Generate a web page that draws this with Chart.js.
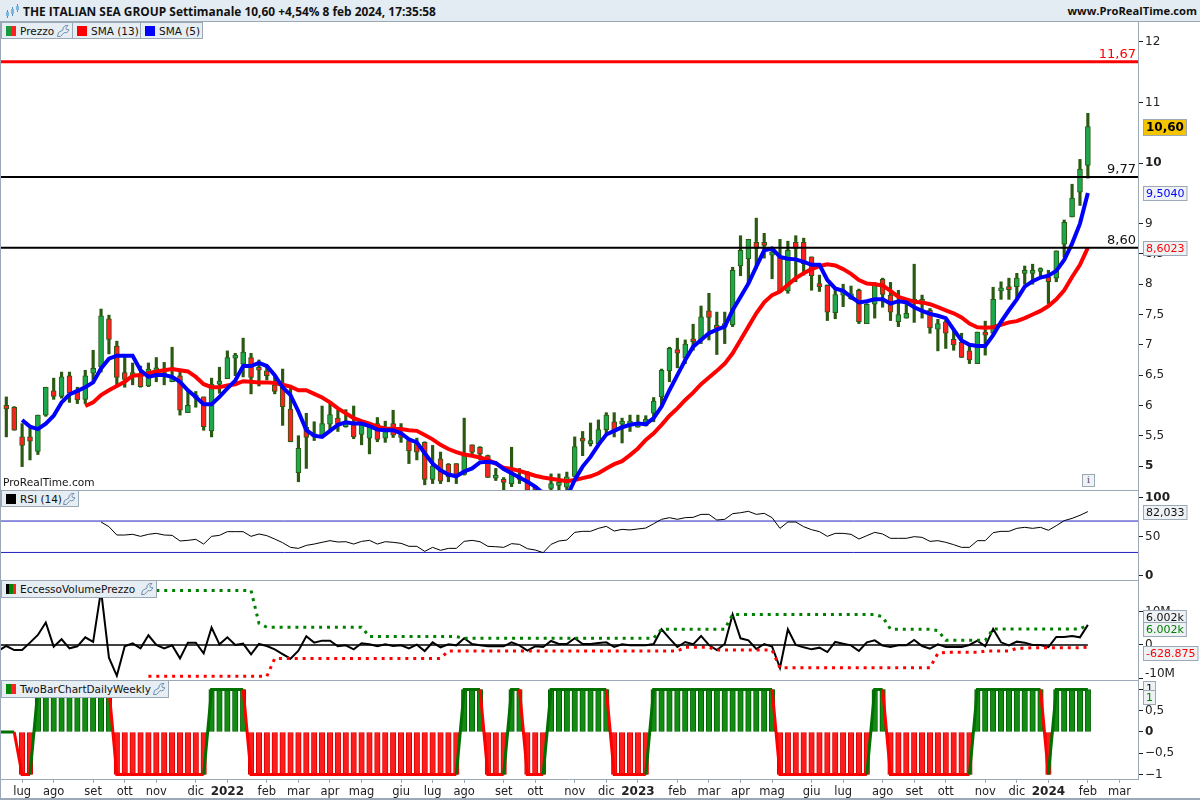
<!DOCTYPE html>
<html>
<head>
<meta charset="utf-8">
<title>The Italian Sea Group</title>
<script src="https://cdn.jsdelivr.net/npm/chart.js@4"></script>
<style>
  html, body { margin: 0; padding: 0; background: #fff; overflow: hidden; }
  #page { position: relative; width: 1200px; height: 800px; font-family: "DejaVu Sans", sans-serif; color: #111; }
  canvas { position: absolute; left: 0; display: block; }
  #titolo { position: absolute; left: 0; top: 0; width: 1200px; height: 22px; background: #e4ecf3; border-bottom: 1px solid #9aa9b5; box-sizing: border-box; font: bold 11.9px/22px "Open Sans", sans-serif; white-space: nowrap; }
  #titolo .nome { position: absolute; left: 23px; top: 0; }
  #titolo .sito { position: absolute; right: 3px; top: 0; font-size: 11.2px; }
  #titolo svg { position: absolute; left: 5px; top: 4px; }
  .chip { position: absolute; height: 17px; background: #e6edf3; border: 1px solid #9aa9b5; box-sizing: border-box; font-size: 10.5px; line-height: 16px; padding-left: 18px; white-space: nowrap; }
  .chip i { position: absolute; left: 4px; top: 3px; width: 10px; height: 10px; }
  .chip svg { position: absolute; right: 2px; top: 1px; }
  .sep { position: absolute; left: 0; width: 1138px; height: 1px; background: #9aa9b5; }
  #bordo { position: absolute; left: 0; top: 22px; width: 1px; height: 777px; background: #9aa9b5; }
  #fondo { position: absolute; left: 0; top: 798px; width: 1200px; height: 2px; background: #9aa9b5; }
  #marchio { position: absolute; left: 3px; top: 475px; font-size: 10.6px; line-height: 14px; }
  #info { position: absolute; left: 1082px; top: 474px; width: 11px; height: 11px; border: 1px solid #9aa9b5; background: #eef2f5; font: 9px/11px "DejaVu Serif", serif; text-align: center; color: #445; }
</style>
</head>
<body>
<div id="page">
  <svg width="0" height="0" style="position:absolute">
    <symbol id="chiave" viewBox="0 0 14 14">
      <path d="M1.5 12.5 L2.5 8.5 L7 6 C6.5 3 9 1 12 1.5 L9.8 3.8 L10.6 5.6 L12.7 5.6 C12.6 8 10 9.5 8 8.5 L4.5 12.5 Z" fill="none" stroke="#6f8fae" stroke-width="1"/>
    </symbol>
  </svg>

  <canvas id="prezzo" width="1200" height="468" style="top:22px"></canvas>
  <canvas id="rsi" width="1200" height="90" style="top:490px"></canvas>
  <canvas id="eccesso" width="1200" height="100" style="top:580px"></canvas>
  <canvas id="duebarre" width="1200" height="120" style="top:680px"></canvas>

  <div id="titolo">
    <svg width="16" height="15" viewBox="0 0 16 15"><path d="M2.5 6v8M7.5 3v9M12.5 0v8" stroke="#4d8fc4" stroke-width="1"/><rect x="1" y="8" width="3" height="4" fill="#7fb6e0"/><rect x="6" y="5" width="3" height="5" fill="#7fb6e0"/><rect x="11" y="2" width="3" height="4" fill="#7fb6e0"/></svg>
    <span class="nome">THE ITALIAN SEA GROUP Settimanale 10,60 +4,54% 8 feb 2024, 17:35:58</span>
    <span class="sito">www.ProRealTime.com</span>
  </div>
  <div class="sep" style="top:490px"></div>
  <div class="sep" style="top:580px"></div>
  <div class="sep" style="top:680px"></div>
  <div id="bordo"></div>
  <div id="fondo"></div>

  <div class="chip" style="left:1px;top:22px;width:72px">
    <i style="background:linear-gradient(90deg,#1a9a3c 50%,#f22 50%)"></i>Prezzo<svg width="14" height="14"><use href="#chiave"/></svg>
  </div>
  <div class="chip" style="left:72px;top:22px;width:69px"><i style="background:#f00"></i>SMA (13)</div>
  <div class="chip" style="left:140px;top:22px;width:63px"><i style="background:#00f"></i>SMA (5)</div>
  <div class="chip" style="left:1px;top:490px;width:78px"><i style="background:#000"></i>RSI (14)<svg width="14" height="14"><use href="#chiave"/></svg></div>
  <div class="chip" style="left:1px;top:580px;width:156px;height:18px"><i style="background:linear-gradient(90deg,#000 33%,#080 33%,#080 66%,#f22 66%)"></i>EccessoVolumePrezzo<svg width="14" height="14"><use href="#chiave"/></svg></div>
  <div class="chip" style="left:1px;top:680px;width:168px;height:18px"><i style="background:linear-gradient(90deg,#080 50%,#f22 50%)"></i>TwoBarChartDailyWeekly<svg width="14" height="14"><use href="#chiave"/></svg></div>

  <div id="marchio">ProRealTime.com</div>
  <div id="info">i</div>
</div>

<script>
// Candele settimanali (dal 2021 a feb 2024)
const opens = [
  6.00,5.97,5.48,5.48,5.24,5.84,6.24,6.15,6.49,6.22,
  6.10,6.53,6.64,7.43,6.98,6.54,6.48,6.52,6.32,6.48,
  6.48,6.39,6.49,5.88,6.14,6.14,5.58,6.35,6.44,6.78,
  6.68,6.79,6.63,6.57,6.34,6.30,5.94,4.89,5.64,5.48,
  5.51,5.69,5.79,5.65,5.68,5.52,5.46,5.70,5.46,5.70,
  5.51,5.42,5.37,5.39,4.78,5.12,5.03,5.04,4.86,5.35,
  5.31,5.17,4.80,4.76,4.71,4.78,4.87,4.66,4.55,4.63,
  4.68,4.65,4.83,5.44,5.37,5.37,5.60,5.73,5.69,5.69,
  5.64,5.66,5.87,6.14,6.57,6.92,6.78,7.09,7.08,7.56,
  7.30,7.30,7.33,8.30,8.42,8.69,8.69,8.48,8.45,7.89,
  8.69,8.69,8.45,8.01,7.98,7.53,7.82,7.76,7.90,7.35,
  7.67,8.08,7.82,7.38,7.44,7.70,7.67,7.57,7.26,7.38,
  7.09,7.04,6.90,6.69,7.21,7.19,7.89,7.96,7.96,8.18,
  8.18,8.21,8.12,8.10,8.66,9.11,9.52,9.96
];
const closes = [
  5.94,5.59,5.34,5.41,5.84,6.30,6.15,6.47,6.20,6.09,
  6.49,6.61,7.48,7.09,6.46,6.43,6.54,6.31,6.60,6.62,
  6.54,6.48,5.92,6.00,6.12,5.65,6.35,6.39,6.79,6.82,
  6.88,6.46,6.58,6.49,6.23,5.98,5.40,5.29,5.47,5.51,
  5.70,5.85,5.70,5.70,5.48,5.68,5.65,5.44,5.57,5.51,
  5.47,5.25,5.23,4.78,5.00,4.75,4.82,4.86,5.17,5.23,
  5.20,4.81,4.83,4.73,4.88,4.80,4.60,4.60,4.50,4.71,
  4.71,4.82,5.32,5.41,5.42,5.60,5.84,5.59,5.70,5.70,
  5.70,5.77,6.07,6.58,6.94,6.86,7.01,7.05,7.46,7.45,
  7.27,7.33,8.23,8.56,8.74,8.59,8.64,8.49,7.88,8.56,
  8.59,8.34,8.14,7.96,7.54,7.83,7.90,7.84,7.38,7.67,
  8.01,7.83,7.54,7.50,7.52,7.74,7.75,7.28,7.35,7.19,
  7.00,6.79,6.75,7.21,7.16,7.75,7.91,7.91,8.10,8.21,
  8.21,8.23,8.04,8.55,9.02,9.42,9.90,10.60
];
const highs = [
  6.14,5.98,5.70,5.62,5.84,6.30,6.45,6.55,6.55,6.30,
  6.58,6.91,7.59,7.49,7.06,6.80,6.70,6.65,6.70,6.79,
  6.71,6.96,6.55,6.25,6.23,6.14,6.45,6.63,6.90,6.86,
  7.11,6.86,6.75,6.65,6.50,6.60,6.28,5.50,5.87,5.73,
  5.99,6.03,5.92,5.93,5.99,5.73,5.72,5.80,5.74,5.92,
  5.70,5.44,5.46,5.40,5.34,5.23,5.04,5.04,5.79,5.35,
  5.32,5.18,4.96,4.81,5.31,4.96,4.91,4.66,4.60,4.87,
  4.87,4.90,5.48,5.57,5.71,5.76,5.88,5.88,5.79,5.84,
  5.84,5.83,6.13,6.60,6.96,7.11,7.08,7.34,7.64,7.85,
  7.54,7.54,8.28,8.80,8.74,9.09,8.84,8.59,8.74,8.71,
  8.80,8.76,8.45,8.15,7.99,7.92,8.00,7.97,7.92,7.68,
  8.03,8.10,8.03,7.90,7.68,8.33,7.82,7.60,7.42,7.41,
  7.27,7.19,7.00,7.21,7.39,7.95,8.04,8.10,8.18,8.30,
  8.33,8.27,8.23,8.55,9.06,9.65,10.06,10.82
];
const lows = [
  5.48,5.59,4.99,5.10,5.19,5.82,6.10,6.12,6.05,6.03,
  6.03,6.39,6.55,6.85,6.32,6.30,6.34,6.30,6.31,6.39,
  6.34,6.39,5.84,5.88,5.97,5.59,5.48,6.20,6.44,6.49,
  6.47,6.19,6.32,6.42,6.19,5.67,5.40,4.74,4.96,5.42,
  5.47,5.59,5.57,5.64,5.45,5.35,5.20,5.40,5.39,5.47,
  5.39,5.04,5.10,4.69,4.71,4.71,4.74,4.71,4.85,5.18,
  5.10,4.81,4.76,4.60,4.66,4.71,4.55,4.50,4.40,4.60,
  4.60,4.60,4.82,5.17,5.33,5.33,5.54,5.48,5.38,5.57,
  5.64,5.66,5.73,5.98,6.39,6.62,6.69,6.91,7.02,7.08,
  6.84,7.02,7.30,8.14,8.01,8.26,8.43,8.09,7.86,7.85,
  8.04,8.15,7.90,7.88,7.40,7.43,7.63,7.75,7.35,7.35,
  7.44,7.62,7.40,7.30,7.44,7.37,7.44,7.19,6.90,6.94,
  6.91,6.79,6.69,6.69,6.83,7.16,7.75,7.75,7.77,8.00,
  8.00,8.14,7.68,8.04,8.45,9.11,9.30,9.75
];
const sma13 = [
  null,null,null,null,null,null,null,null,null,null,
  5.99,6.05,6.17,6.25,6.32,6.39,6.49,6.50,6.53,6.56,
  6.58,6.60,6.58,6.56,6.47,6.35,6.30,6.30,6.33,6.35,
  6.40,6.39,6.38,6.38,6.37,6.34,6.31,6.25,6.25,6.19,
  6.13,6.05,5.95,5.87,5.79,5.74,5.70,5.65,5.62,5.61,
  5.61,5.59,5.58,5.51,5.44,5.35,5.28,5.23,5.19,5.17,
  5.14,5.10,5.04,4.97,4.95,4.92,4.88,4.84,4.81,4.79,
  4.77,4.75,4.77,4.80,4.83,4.88,4.96,5.03,5.08,5.18,
  5.29,5.43,5.54,5.68,5.83,5.95,6.09,6.21,6.35,6.46,
  6.57,6.69,6.86,7.08,7.30,7.52,7.70,7.82,7.88,7.99,
  8.10,8.18,8.25,8.30,8.33,8.31,8.25,8.17,8.07,8.01,
  8.00,7.98,7.89,7.79,7.75,7.71,7.70,7.67,7.62,7.57,
  7.52,7.45,7.35,7.29,7.28,7.29,7.33,7.37,7.39,7.44,
  7.50,7.56,7.64,7.75,7.90,8.12,8.32,8.6023
];
const sma5 = [
  null,null,5.76,5.65,5.61,5.70,5.83,6.05,6.18,6.24,
  6.30,6.38,6.61,6.77,6.82,6.82,6.82,6.58,6.47,6.50,
  6.50,6.47,6.39,6.25,6.14,6.02,6.02,6.14,6.28,6.41,
  6.65,6.65,6.70,6.65,6.50,6.30,6.17,5.90,5.59,5.50,
  5.48,5.58,5.68,5.72,5.70,5.70,5.66,5.60,5.59,5.59,
  5.54,5.44,5.39,5.21,5.04,4.93,4.86,4.83,4.91,4.96,
  5.06,5.07,5.05,4.95,4.88,4.81,4.74,4.66,4.55,4.44,
  4.40,4.49,4.77,4.99,5.15,5.35,5.52,5.58,5.64,5.68,
  5.70,5.69,5.79,5.98,6.25,6.50,6.75,6.97,7.08,7.19,
  7.25,7.30,7.57,7.79,8.01,8.29,8.56,8.59,8.45,8.42,
  8.41,8.37,8.32,8.32,8.07,7.93,7.89,7.79,7.70,7.72,
  7.75,7.75,7.68,7.72,7.70,7.62,7.56,7.51,7.48,7.44,
  7.25,7.07,7.00,6.98,6.98,7.16,7.38,7.57,7.75,7.96,
  8.05,8.11,8.14,8.22,8.40,8.67,9.00,9.504
];
const livelliNeri = [9.77, 8.60];
const livelloRosso = 11.67;

// RSI (14)
const rsiValues = [
  null,null,null,null,null,null,null,null,null,null,
  null,null,68.8,62.8,52.2,52.2,53.1,50.5,53.1,54.3,
  52.2,51.8,44.6,45.4,46.7,40.7,50.5,51.8,56.5,56.5,
  56.5,50.5,53.5,51.4,47.1,42.4,36.5,35.2,39.0,40.7,
  42.9,45.0,43.3,43.7,40.7,44.1,45.4,40.7,43.7,42.9,
  41.6,37.8,37.8,31.4,36.5,32.7,35.2,35.2,44.1,45.4,
  43.7,37.8,37.3,36.5,41.2,40.3,34.8,33.1,29.7,40.3,
  44.6,45.8,55.6,56.9,56.9,60.7,63.2,57.3,59.4,58.6,
  59.9,61.1,66.6,72.2,74.3,72.2,74.3,74.7,78.5,78.5,
  71.3,72.2,79.4,80.6,82.4,78.5,79.8,74.3,60.7,68.8,
  68.8,62.8,59.0,56.5,50.5,54.3,54.3,53.1,47.1,51.4,
  55.6,53.5,48.0,48.0,48.0,50.1,49.2,44.1,45.0,42.9,
  39.9,36.5,36.5,45.0,45.0,55.2,56.9,56.9,60.7,62.0,
  60.7,62.0,58.2,64.1,70.5,73.4,77.3,82.033
];
const rsiLivelli = [70, 30];

// EccessoVolumePrezzo, in milioni
const evpPrima = -1.7;
const evpLine = [
  -0.3,-1.5,-1.5,0.7,3.0,6.7,-0.5,1.7,-1.0,-0.4,
  2.3,0.9,16.3,-3.8,-9.2,-0.4,0.5,-1.0,2.9,0,
  -1.0,-0.1,-4.0,0.7,0.7,-2.5,5.2,0.2,2.3,0,
  0.4,-2.8,0.3,-0.3,-1.3,-2.7,-4.1,-1.7,2.6,0.7,
  1.3,1.3,-0.4,-0.1,-1.3,0.5,0.2,-0.4,0.2,-0.3,
  -0.1,-1.0,0.1,-1.8,0.8,-0.7,0.2,-0.1,2.0,0.3,
  -0.1,-0.4,-0.4,-0.4,0.8,-0.1,-1.7,-0.4,-0.6,1.2,
  0.3,0.3,2.0,0.3,0.3,0.6,0.8,-0.6,0.2,-0.1,
  -0.1,-0.1,0.3,4.7,2.0,-0.6,0.9,0.2,2.7,0,
  -1.5,0.3,9.1,2.0,1.4,-1.2,0.3,-0.5,-6.8,4.7,
  0,-0.7,-1.3,-0.8,-2.1,0.9,0.4,-0.1,-1.8,0.8,
  1.4,-0.2,-0.6,-0.1,-0.1,1.5,-0.3,-1.1,0.2,-0.6,
  -0.6,-0.6,0,1.3,-0.4,4.8,0.8,-0.1,1.0,0.7,
  0,0,-0.6,2.4,2.4,2.7,2.3,6.002
];
const evpUpper = [
  null,null,null,null,null,null,null,null,null,null,
  null,null,16.3,16.3,16.3,16.3,16.3,16.3,16.3,16.3,
  16.3,16.3,16.3,16.3,16.3,16.3,16.3,16.3,16.3,16.3,
  16.3,16.3,6.5,5.3,5.3,5.3,5.3,5.3,5.3,5.3,
  5.3,5.3,5.3,5.3,5.3,5.3,2.5,2.5,2.5,2.5,
  2.5,2.5,2.5,2.5,2.5,2.5,2.5,2.5,2.0,2.0,
  2.0,2.0,2.0,2.0,2.0,2.0,2.0,2.0,2.0,2.0,
  2.0,2.0,2.0,2.0,2.0,2.0,2.0,2.0,2.0,2.0,
  2.0,2.0,2.0,4.7,4.7,4.7,4.7,4.7,4.7,4.7,
  4.7,4.7,9.1,9.1,9.1,9.1,9.1,9.1,9.1,9.1,
  9.1,9.1,9.1,9.1,9.1,9.1,9.1,9.1,9.1,9.1,
  9.1,8.4,4.7,4.7,4.7,4.7,4.7,4.7,4.3,1.4,
  1.4,1.4,1.4,1.4,1.4,4.8,4.8,4.8,4.8,4.8,
  4.8,4.8,4.8,4.8,4.8,4.8,4.8,6.002
];
const evpLower = [
  null,null,null,null,null,null,null,null,null,null,
  null,null,null,null,null,null,null,null,-9.35,-9.35,
  -9.35,-9.35,-9.35,-9.35,-9.35,-9.35,-9.35,-9.35,-9.35,-9.35,
  -9.35,-9.35,-9.35,-9.35,-4.0,-4.0,-4.0,-4.0,-4.0,-4.0,
  -4.0,-4.0,-4.0,-4.0,-4.0,-4.0,-4.0,-4.0,-4.0,-4.0,
  -4.0,-4.0,-4.0,-4.0,-4.0,-4.0,-1.8,-1.8,-1.8,-1.8,
  -1.8,-1.8,-1.8,-1.8,-1.8,-1.8,-1.8,-1.8,-1.8,-1.8,
  -1.8,-1.8,-1.8,-1.8,-1.8,-1.8,-1.8,-1.8,-1.8,-1.8,
  -1.8,-1.8,-1.8,-1.8,-1.8,-1.8,-0.7,-0.7,-0.7,-0.7,
  -1.5,-1.5,-1.5,-1.5,-1.5,-1.5,-1.5,-1.5,-6.8,-6.8,
  -6.8,-6.8,-6.8,-6.8,-6.8,-6.8,-6.8,-6.8,-6.8,-6.8,
  -6.8,-6.8,-6.8,-6.8,-6.8,-6.8,-6.8,-6.8,-2.5,-2.2,
  -2.2,-2.2,-2.2,-2.2,-1.8,-1.8,-1.8,-1.8,-1.0,-1.0,
  -0.8,-0.8,-0.8,-0.8,-0.8,-0.8,-0.8,-0.63
];

// TwoBarChartDailyWeekly
const duePrima = 0;
const twoBar = [
  0,0,-1,-1,1,1,1,1,1,1,
  1,1,1,1,-1,-1,-1,-1,-1,-1,
  -1,-1,-1,-1,-1,-1,1,1,1,1,
  1,-1,-1,-1,-1,-1,-1,-1,-1,-1,
  -1,-1,-1,-1,-1,-1,-1,-1,-1,-1,
  -1,-1,-1,-1,-1,-1,-1,-1,1,1,
  1,-1,-1,-1,1,1,-1,-1,-1,1,
  1,1,1,1,1,1,1,-1,-1,-1,
  -1,-1,1,1,1,1,1,1,1,1,
  1,1,1,1,1,1,1,1,-1,-1,
  -1,-1,-1,-1,-1,-1,-1,-1,-1,-1,
  1,1,-1,-1,-1,-1,-1,-1,-1,-1,
  -1,-1,-1,1,1,1,1,1,1,1,
  1,1,-1,1,1,1,1,1
];

// Etichette dell'asse del tempo e tacche degli assi
const meseLabels = ["lug","ago","set","ott","nov","dic","2022","feb","mar","apr","mag","giu","lug","ago","set","ott","nov","dic","2023","feb","mar","apr","mag","giu","lug","ago","set","ott","nov","dic","2024","feb","mar"];
const meseIndex = [2,6,11,15,19,24,28,33,37,41,45,50,54,58,63,67,72,76,80,85,89,93,97,102,106,111,115,119,124,128,132,137,141];
const prezzoTicks = [5,5.5,6,6.5,7,7.5,8,8.5,9,10,11,12];
const rsiTicks = [0,50,100];
const evpTicks = [-10,0,10];
const dueTicks = [-1,-0.5,0,0.5,1];

const FONT = "DejaVu Sans";
const GRIGIO = "#9aa9b5";
const X_MIN = -0.8, X_MAX = 143.35;

function virgola(v) {
  return String(v).replace(".", ",");
}

function punti(values) {
  return values.map((v, i) => ({ x: i, y: v }));
}

function scalaX(mostra) {
  return {
    type: "linear",
    display: mostra,
    min: X_MIN,
    max: X_MAX,
    offset: false,
    grid: { display: mostra, drawOnChartArea: false, offset: false, tickLength: 4, tickColor: GRIGIO },
    border: { color: GRIGIO },
    afterBuildTicks: s => { s.ticks = meseIndex.map(v => ({ value: v })); },
    afterFit: s => { s.height = mostra ? 21 : 0; s.paddingLeft = 0; s.paddingRight = 0; },
    ticks: {
      autoSkip: false,
      maxRotation: 0,
      padding: 2,
      color: "#222",
      font: c => (/^\d{4}$/.test(meseLabels[meseIndex.indexOf(c.tick && c.tick.value)]) ? { family: FONT, size: 12, weight: "bold" } : { family: FONT, size: 11.5 }),
      callback: v => { const k = meseIndex.indexOf(v); return k < 0 ? "" : meseLabels[k]; }
    }
  };
}

function scalaY(min, max, tickValues, etichetta, grassetto) {
  return {
    position: "right",
    min: min,
    max: max,
    beginAtZero: false,
    grid: { drawOnChartArea: false, tickLength: 5, tickColor: "#222" },
    border: { color: GRIGIO },
    afterBuildTicks: s => { s.ticks = tickValues.map(v => ({ value: v })); },
    afterFit: s => { s.width = 62; s.paddingTop = 0; s.paddingBottom = 0; },
    ticks: {
      autoSkip: false,
      padding: 2,
      color: "#222",
      font: c => ({ family: FONT, size: 12, weight: c.tick && grassetto.includes(c.tick.value) ? "bold" : "normal" }),
      callback: etichetta
    }
  };
}

function opzioni(scaleY, mostraX) {
  return {
    responsive: false,
    animation: false,
    devicePixelRatio: 1,
    layout: { padding: 0 },
    events: [],
    plugins: { legend: { display: false }, tooltip: { enabled: false } },
    scales: { x: scalaX(mostraX), y: scaleY }
  };
}

// Cartellino di valore sull'asse destro
function cartellino(ctx, testo, y, colore, sfondo, grassetto) {
  ctx.save();
  ctx.font = (grassetto ? "bold 12px " : "11px ") + FONT;
  const larghezza = ctx.measureText(testo).width + 5;
  const altezza = grassetto ? 16 : 14;
  const alto = Math.round(y - altezza / 2) + 0.5;
  ctx.fillStyle = sfondo;
  ctx.strokeStyle = GRIGIO;
  ctx.lineWidth = 1;
  ctx.fillRect(1143.5, alto, larghezza, altezza);
  ctx.strokeRect(1143.5, alto, larghezza, altezza);
  ctx.fillStyle = colore;
  ctx.textAlign = "left";
  ctx.textBaseline = "middle";
  ctx.fillText(testo, 1146, Math.round(y) + 1);
  ctx.restore();
}

function testoLivello(ctx, testo, y, colore) {
  ctx.save();
  ctx.font = "13px " + FONT;
  ctx.fillStyle = colore;
  ctx.textAlign = "right";
  ctx.textBaseline = "bottom";
  ctx.fillText(testo, 1136, y - 1);
  ctx.restore();
}

// Grafico del prezzo: stoppini e corpi come barre flottanti
new Chart(document.getElementById("prezzo"), {
  type: "bar",
  data: {
    datasets: [
      {
        order: 5,
        grouped: false,
        data: highs.map((h, i) => ({ x: i, y: [lows[i], h] })),
        backgroundColor: "#2a5a12",
        barThickness: 2.5
      },
      {
        order: 4,
        grouped: false,
        data: opens.map((o, i) => ({ x: i, y: [o, closes[i]] })),
        backgroundColor: c => (closes[c.dataIndex] >= opens[c.dataIndex] ? "#1ea84e" : "#ff2020"),
        borderColor: "#2a5a12",
        borderWidth: 1,
        borderSkipped: false,
        barThickness: 5,
        minBarLength: 3
      },
      { type: "line", order: 3, data: punti(sma13), borderColor: "#ff0000", borderWidth: 4, pointRadius: 0 },
      { type: "line", order: 2, data: punti(sma5), borderColor: "#0000ff", borderWidth: 4, pointRadius: 0 },
      { type: "line", order: 1, data: [{ x: X_MIN, y: livelloRosso }, { x: X_MAX, y: livelloRosso }], borderColor: "#ff0000", borderWidth: 3, pointRadius: 0 },
      { type: "line", order: 1, data: [{ x: X_MIN, y: livelliNeri[0] }, { x: X_MAX, y: livelliNeri[0] }], borderColor: "#000", borderWidth: 2, pointRadius: 0 },
      { type: "line", order: 1, data: [{ x: X_MIN, y: livelliNeri[1] }, { x: X_MAX, y: livelliNeri[1] }], borderColor: "#000", borderWidth: 2, pointRadius: 0 }
    ]
  },
  options: opzioni(scalaY(4.604, 12.327, prezzoTicks, v => virgola(v), [5, 10]), false),
  plugins: [{
    id: "etichettePrezzo",
    afterDraw(chart) {
      const y = chart.scales.y;
      testoLivello(chart.ctx, virgola(livelloRosso), y.getPixelForValue(livelloRosso), "#f00");
      testoLivello(chart.ctx, "9,77", y.getPixelForValue(livelliNeri[0]), "#111");
      testoLivello(chart.ctx, "8,60", y.getPixelForValue(livelliNeri[1]), "#111");
      cartellino(chart.ctx, "10,60", y.getPixelForValue(closes[137]), "#000", "#f5c400", true);
      cartellino(chart.ctx, "9,5040", y.getPixelForValue(sma5[137]), "#00f", "#eef2f5", false);
      cartellino(chart.ctx, "8,6023", y.getPixelForValue(sma13[137]), "#f00", "#eef2f5", false);
    }
  }]
});

// RSI
new Chart(document.getElementById("rsi"), {
  type: "line",
  data: {
    datasets: [
      { data: punti(rsiValues), borderColor: "#000", borderWidth: 1, pointRadius: 0 },
      { data: [{ x: X_MIN, y: rsiLivelli[0] }, { x: X_MAX, y: rsiLivelli[0] }], borderColor: "#2020c0", borderWidth: 1, pointRadius: 0 },
      { data: [{ x: X_MIN, y: rsiLivelli[1] }, { x: X_MAX, y: rsiLivelli[1] }], borderColor: "#2020c0", borderWidth: 1, pointRadius: 0 }
    ]
  },
  options: opzioni(scalaY(-5.1, 109.55, rsiTicks, v => String(v), [0, 100]), false),
  plugins: [{
    id: "etichetteRsi",
    afterDraw(chart) {
      cartellino(chart.ctx, "82,033", chart.scales.y.getPixelForValue(rsiValues[137]), "#111", "#eef2f5", false);
    }
  }]
});

// Eccesso volume prezzo
new Chart(document.getElementById("eccesso"), {
  type: "line",
  data: {
    datasets: [
      { data: [{ x: X_MIN, y: 0 }, { x: 137, y: 0 }], borderColor: "#000", borderWidth: 1.5, pointRadius: 0 },
      { data: punti(evpUpper), borderColor: "#008000", borderWidth: 3, borderDash: [3, 4.9], pointRadius: 0 },
      { data: punti(evpLower), borderColor: "#ff0000", borderWidth: 3, borderDash: [3, 4.9], pointRadius: 0 },
      { data: [{ x: -1, y: evpPrima }].concat(punti(evpLine)), borderColor: "#000", borderWidth: 2, pointRadius: 0 }
    ]
  },
  options: opzioni(scalaY(-10.45, 19.4, evpTicks, v => (v === 10 ? "10M" : v === 0 ? "0" : ""), []), false),
  plugins: [{
    id: "etichetteEvp",
    afterDraw(chart) {
      const y = chart.scales.y;
      const ctx = chart.ctx;
      ctx.save();
      ctx.font = "12px " + FONT;
      ctx.fillStyle = "#222";
      ctx.textBaseline = "middle";
      ctx.fillText("-10M", 1145, y.getPixelForValue(-10) - 5);
      ctx.restore();
      cartellino(ctx, "6.002k", y.getPixelForValue(evpLine[137]) - 8, "#111", "#eef2f5", false);
      cartellino(ctx, "6.002k", y.getPixelForValue(evpUpper[137]) + 4, "#008000", "#eef2f5", false);
      cartellino(ctx, "-628.875", y.getPixelForValue(evpLower[137]) + 6, "#f00", "#eef2f5", false);
    }
  }]
});

// Due barre giornaliero/settimanale
new Chart(document.getElementById("duebarre"), {
  type: "bar",
  data: {
    datasets: [
      {
        order: 2,
        data: punti(twoBar),
        backgroundColor: c => (twoBar[c.dataIndex] >= 0 ? "#128c12" : "#ff1c1c"),
        borderColor: c => (twoBar[c.dataIndex] >= 0 ? "#006000" : "#d80000"),
        borderWidth: 1,
        borderSkipped: false,
        barThickness: 5.5
      },
      {
        type: "line",
        order: 1,
        data: [{ x: -1, y: duePrima }].concat(punti(twoBar)),
        borderWidth: 3,
        pointRadius: 0,
        borderColor: "#007000",
        segment: { borderColor: c => (c.p1.parsed.y < 0 ? "#ff0000" : "#007000") }
      }
    ]
  },
  options: opzioni(scalaY(-1.106, 1.2235, dueTicks, v => virgola(v).replace("-", "\u2212"), [0]), true),
  plugins: [{
    id: "etichetteDue",
    afterDraw(chart) {
      const y = chart.scales.y.getPixelForValue(twoBar[137]);
      cartellino(chart.ctx, "1", y - 1, "#111", "#eef2f5", false);
      cartellino(chart.ctx, "1", y + 8, "#008000", "#eef2f5", false);
    }
  }]
});
</script>
</body>
</html>
